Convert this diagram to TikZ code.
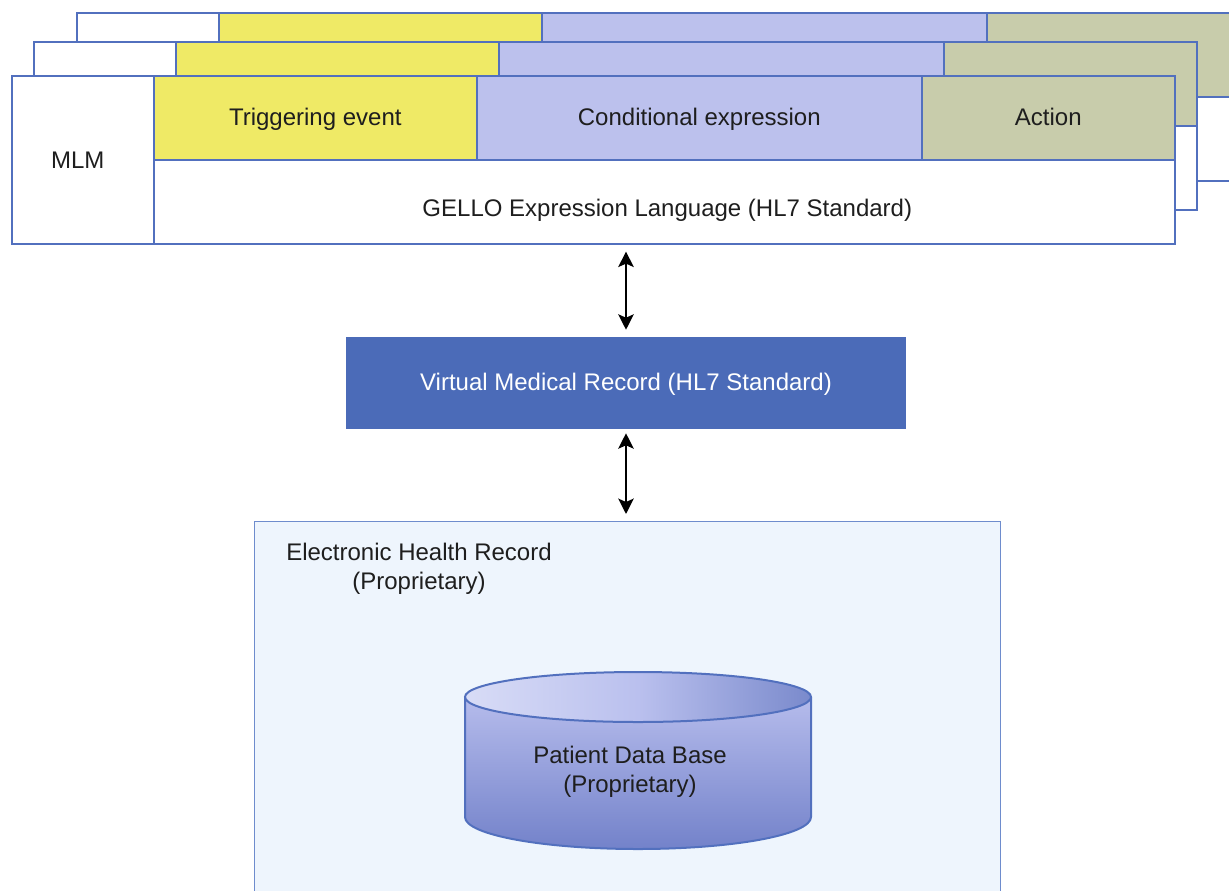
\documentclass[tikz,border=0pt]{standalone}
\usepackage{fontspec}
\setmainfont{Liberation Sans}
\usetikzlibrary{arrows.meta}
\definecolor{edgeblue}{RGB}{82,112,190}
\definecolor{trigfill}{RGB}{239,234,102}
\definecolor{condfill}{RGB}{188,193,237}
\definecolor{actfill}{RGB}{200,204,171}
\definecolor{vmrfill}{RGB}{75,107,184}
\definecolor{ehrfill}{RGB}{238,245,253}
\definecolor{ehredge}{RGB}{110,140,205}
\definecolor{inktext}{RGB}{30,30,30}
\definecolor{dbtop}{RGB}{182,188,236}
\definecolor{dbbot}{RGB}{115,130,202}
\definecolor{lidleft}{RGB}{216,220,246}
\definecolor{lidmid}{RGB}{186,192,238}
\definecolor{lidright}{RGB}{122,138,204}
\newcommand\pxu{0.75pt}
\newcommand\labelfont{\fontsize{18}{22}\selectfont}
\tikzset{
  cell/.style={draw=edgeblue, line width=1.2pt, anchor=north west, inner sep=0pt},
  lbl/.style={text=inktext, font=\labelfont, inner sep=0pt, align=center},
  oneline/.style={lbl, text height=0.72em, text depth=0.2em, yshift=-3pt},
  link/.style={draw=black, line width=2pt, {Stealth[length=11.5pt,width=11.5pt,inset=2.5pt]}-{Stealth[length=11.5pt,width=11.5pt,inset=2.5pt]}}
}
% one MLM sheet: MLM column, three slots on top, expression language below
\newcommand\mlmsheet[1]{%
  \node[cell, fill=white, minimum width=142*\pxu, minimum height=168*\pxu] (mlm#1) at (11,75) {};
  \node[cell, fill=trigfill, minimum width=323*\pxu, minimum height=84*\pxu] (trig#1) at (153,75) {};
  \node[cell, fill=condfill, minimum width=445*\pxu, minimum height=84*\pxu] (cond#1) at (476,75) {};
  \node[cell, fill=actfill, minimum width=253*\pxu, minimum height=84*\pxu] (act#1) at (921,75) {};
  \node[cell, fill=white, minimum width=1021*\pxu, minimum height=84*\pxu] (gello#1) at (153,159) {};
}
\begin{document}
\begin{tikzpicture}[x=0.75pt, y=-0.75pt]
\useasboundingbox (0,0) rectangle (1229,890);
\clip (0,0) rectangle (1229,890);

% stacked sheets, back to front
\begin{scope}[shift={(65,-63)}]\mlmsheet{c}\end{scope}
\begin{scope}[shift={(22,-34)}]\mlmsheet{b}\end{scope}
\mlmsheet{a}
\node[oneline] (mlmtext) at ([xshift=-5*\pxu, yshift=-1*\pxu]mlma.center) {MLM};
\node[oneline] (trigtext) at (triga.center) {Triggering event};
\node[oneline] (condtext) at (conda.center) {Conditional expression};
\node[oneline] (acttext) at (acta.center) {Action};
\node[oneline] (gellotext) at ([xshift=3*\pxu, yshift=-7*\pxu]gelloa.center) {GELLO Expression Language (HL7 Standard)};

% virtual medical record
\node[draw=none, fill=vmrfill, minimum width=560*\pxu, minimum height=92*\pxu,
  inner sep=0pt] (vmr) at (626,383) {};
\node[oneline, text=white] (vmrtext) at (vmr.center) {Virtual Medical Record (HL7 Standard)};

% electronic health record container
\node[draw=ehredge, line width=0.9pt, fill=ehrfill, anchor=north west, inner sep=0pt,
  minimum width=746*\pxu, minimum height=400*\pxu] (ehr) at (254,521) {};
\node[lbl] (ehrtext) at (419,569) {Electronic Health Record\\(Proprietary)};

% patient data base cylinder
\path[top color=dbtop, bottom color=dbbot]
  (465,697) -- (465,817) arc[start angle=180, end angle=0, x radius=173, y radius=32]
  -- (811,697) -- cycle;
\fill[left color=lidleft, right color=lidright, middle color=lidmid]
  (638,697) ellipse[x radius=173, y radius=25];
\draw[edgeblue, line width=1.5pt]
  (465,697) -- (465,817) arc[start angle=180, end angle=0, x radius=173, y radius=32]
  -- (811,697);
\draw[edgeblue, line width=1.5pt] (638,697) ellipse[x radius=173, y radius=25];
\node[lbl] (db) at (630,772) {Patient Data Base\\(Proprietary)};

% links between layers
\draw[link, shorten <=7*\pxu, shorten >=7*\pxu] (vmr.north) -- (vmr.north |- gelloa.south);
\draw[link, shorten <=4*\pxu, shorten >=7*\pxu] (vmr.south) -- (vmr.south |- ehr.north);
\end{tikzpicture}
\end{document}
